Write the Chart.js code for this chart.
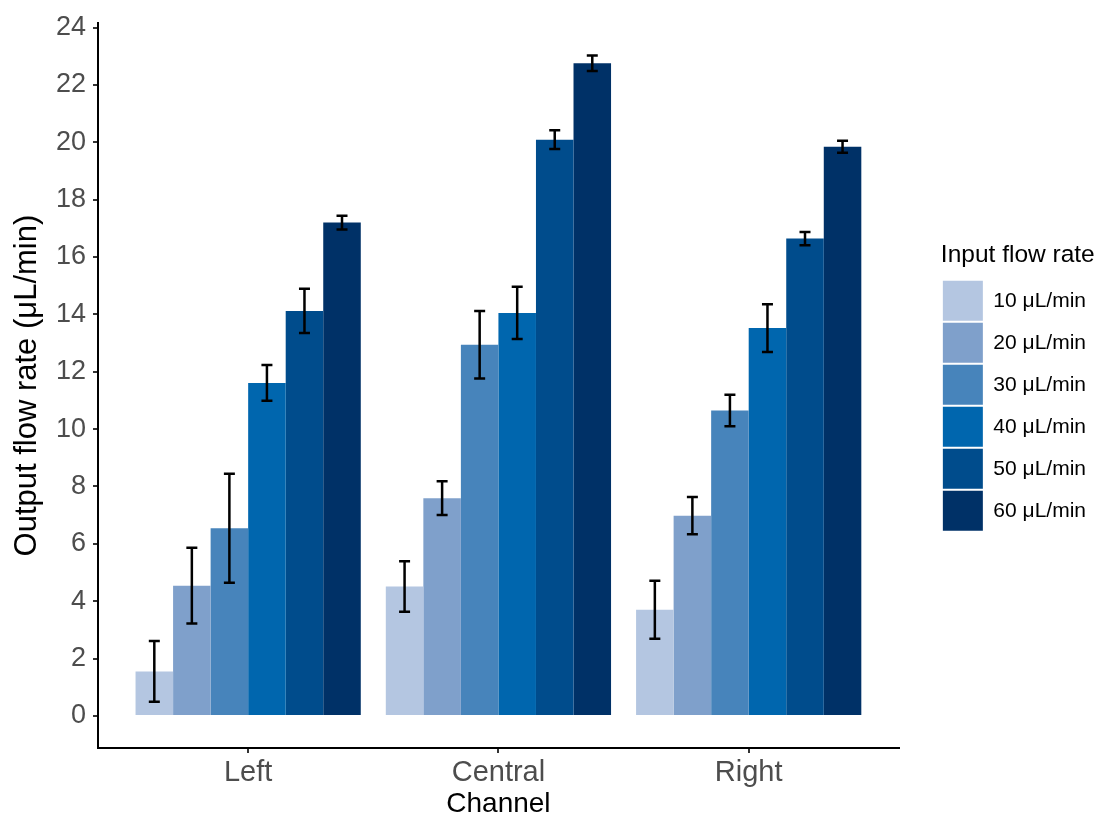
<!DOCTYPE html>
<html>
<head>
<meta charset="utf-8">
<title>Output flow rate by channel</title>
<script src="https://cdn.jsdelivr.net/npm/chart.js@4.4.1/dist/chart.umd.min.js"></script>
<style>
  html, body { margin: 0; padding: 0; background: #ffffff; overflow: hidden; }
  canvas { display: block; }
</style>
</head>
<body>
<canvas id="flowChart" width="1111" height="818"></canvas>
<script>
// categories on the x axis
const channels = ['Left', 'Central', 'Right'];
// legend entries (one dataset per input flow rate)
const inputRates = ['10 μL/min', '20 μL/min', '30 μL/min', '40 μL/min', '50 μL/min', '60 μL/min'];
const rateColors = ['#b4c6e1', '#7fa0cb', '#4784bb', '#0066ae', '#004c8c', '#003167'];

// mean output flow rate per channel (Left, Central, Right)
const flow10 = [1.55, 4.51, 3.70];
const flow20 = [4.54, 7.59, 6.98];
const flow30 = [6.54, 12.94, 10.65];
const flow40 = [11.61, 14.05, 13.52];
const flow50 = [14.12, 20.09, 16.64];
const flow60 = [17.20, 22.75, 19.84];

// error bar half widths, same order
const err10 = [1.06, 0.88, 1.01];
const err20 = [1.32, 0.59, 0.65];
const err30 = [1.90, 1.18, 0.55];
const err40 = [0.62, 0.91, 0.83];
const err50 = [0.77, 0.33, 0.23];
const err60 = [0.24, 0.27, 0.21];

const yTicks = [0, 2, 4, 6, 8, 10, 12, 14, 16, 18, 20, 22, 24];

const allFlows = [flow10, flow20, flow30, flow40, flow50, flow60];
const allErrs = [err10, err20, err30, err40, err50, err60];

Chart.defaults.font.family = "'Liberation Sans', Arial, sans-serif";

// draws the black error bars on top of each bar
const errorBars = {
    id: 'errorBars',
    afterDatasetsDraw(chart) {
        const ctx = chart.ctx;
        const yScale = chart.scales.y;
        ctx.save();
        ctx.strokeStyle = '#000000';
        ctx.lineWidth = 2.5;
        chart.data.datasets.forEach((ds, di) => {
            const meta = chart.getDatasetMeta(di);
            meta.data.forEach((bar, i) => {
                const v = ds.data[i].y;
                const e = ds.errors[i];
                const top = yScale.getPixelForValue(v + e);
                const bot = yScale.getPixelForValue(v - e);
                const half = 5.5;
                ctx.beginPath();
                ctx.moveTo(bar.x, top);
                ctx.lineTo(bar.x, bot);
                ctx.moveTo(bar.x - half, top);
                ctx.lineTo(bar.x + half, top);
                ctx.moveTo(bar.x - half, bot);
                ctx.lineTo(bar.x + half, bot);
                ctx.stroke();
            });
        });
        ctx.restore();
    }
};

const datasets = inputRates.map((label, k) => ({
    label: label,
    data: allFlows[k].map((v, i) => ({ x: i + 1, y: v })),
    errors: allErrs[k],
    backgroundColor: rateColors[k],
    borderWidth: 0,
    categoryPercentage: 0.9,
    barPercentage: 1.0
}));

const axisBorder = { display: true, color: '#000000', width: 2 };

new Chart(document.getElementById('flowChart'), {
    type: 'bar',
    data: { datasets: datasets },
    plugins: [errorBars],
    options: {
        responsive: false,
        animation: false,
        layout: { padding: { top: 19, right: 15, bottom: 0, left: 0 } },
        plugins: {
            tooltip: { enabled: false },
            legend: {
                position: 'right',
                align: 'center',
                fullSize: false,
                title: {
                    display: true,
                    text: 'Input flow rate',
                    position: 'start',
                    color: '#000000',
                    font: { size: 24.5 },
                    padding: { top: 5, bottom: 6 }
                },
                labels: {
                    boxWidth: 40,
                    boxHeight: 40,
                    padding: 2,
                    color: '#000000',
                    font: { size: 21 }
                }
            }
        },
        scales: {
            x: {
                type: 'linear',
                min: 0.4,
                max: 3.6,
                offset: false,
                afterBuildTicks: (axis) => { axis.ticks = channels.map((c, i) => ({ value: i + 1 })); },
                afterFit: (axis) => { axis.height = 70; },
                grid: { offset: false, drawOnChartArea: false, drawTicks: true, tickLength: 5, color: '#333333', lineWidth: 2 },
                border: axisBorder,
                ticks: {
                    autoSkip: false,
                    maxRotation: 0,
                    padding: 3,
                    color: '#4d4d4d',
                    font: { size: 29 },
                    callback: (v) => channels[v - 1]
                },
                title: {
                    display: true,
                    text: 'Channel',
                    color: '#000000',
                    font: { size: 28, lineHeight: 1 },
                    padding: 0
                }
            },
            y: {
                min: -1.12,
                max: 24.15,
                afterBuildTicks: (axis) => { axis.ticks = yTicks.map(v => ({ value: v })); },
                afterFit: (axis) => { axis.width = 98; },
                grid: { drawOnChartArea: false, drawTicks: true, tickLength: 5, color: '#333333', lineWidth: 2 },
                border: axisBorder,
                ticks: {
                    padding: 7,
                    color: '#4d4d4d',
                    font: { size: 27 }
                },
                title: {
                    display: true,
                    text: 'Output flow rate (μL/min)',
                    color: '#000000',
                    font: { size: 31 },
                    padding: { top: 9, bottom: 0 }
                }
            },
            spacer: {
                type: 'linear',
                position: 'right',
                display: true,
                afterFit: (axis) => { axis.width = 42; },
                grid: { display: false, drawTicks: false },
                border: { display: false },
                ticks: { display: false }
            }
        }
    }
});
</script>
</body>
</html>
